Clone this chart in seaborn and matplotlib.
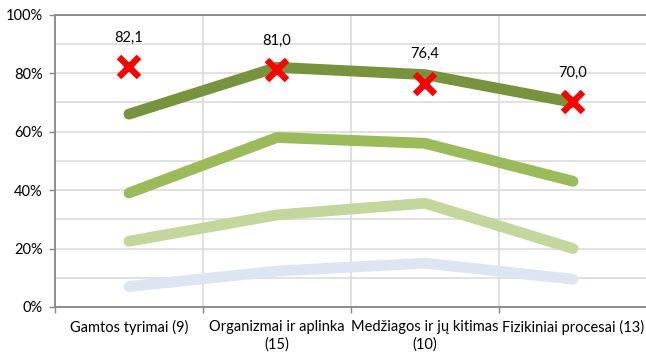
import numpy as np
import pandas as pd
import matplotlib
matplotlib.use("Agg")
import matplotlib.pyplot as plt
import seaborn as sns

# Categories (topics with number of tasks)
categories = [
    "Gamtos tyrimai (9)",
    "Organizmai ir aplinka\n(15)",
    "Medžiagos ir jų kitimas\n(10)",
    "Fizikiniai procesai (13)",
]

# Percentage series (bands)
series_names = ["s1", "s2", "s3", "s4"]
s1 = [66.0, 82.0, 79.5, 70.0]
s2 = [39.0, 58.0, 56.0, 43.0]
s3 = [22.5, 31.5, 35.5, 20.0]
s4 = [7.0, 12.3, 15.0, 9.5]

# Marked values with labels
marks = [82.1, 81.0, 76.4, 70.0]
mark_labels = ["82,1", "81,0", "76,4", "70,0"]

colors = ["#77933C", "#9BBB59", "#C3D69B", "#DCE6F2"]

sns.set_theme(style="white")
plt.rcParams["font.family"] = ["Lato", "DejaVu Sans"]

rows = []
for name, vals in zip(series_names, [s1, s2, s3, s4]):
    for i, v in enumerate(vals):
        rows.append({"pos": i, "value": v, "series": name})
df = pd.DataFrame(rows)

fig = plt.figure(figsize=(6.46, 3.56), dpi=100)
ax = fig.add_axes([55 / 646, 49 / 356, 592 / 646, 292.3 / 356])

sns.lineplot(
    data=df, x="pos", y="value", hue="series", palette=colors,
    hue_order=series_names, linewidth=7.8, legend=False, ax=ax,
)
for ln in ax.get_lines():
    ln.set_solid_capstyle("round")
    ln.set_solid_joinstyle("round")

ax.plot(range(len(marks)), marks, linestyle="none", marker="x",
        markersize=14, markeredgewidth=4.6, color="#FF0000", zorder=5)
for i, (v, lab) in enumerate(zip(marks, mark_labels)):
    ax.annotate(lab, (i, v), xytext=(0, 21.3), textcoords="offset points",
                ha="center", va="center", fontsize=10.5, color="black")

ax.set_xlim(-0.5, 3.5)
ax.set_ylim(0, 100)

# Horizontal grid every 10 %, labels every 20 %
ax.set_yticks(np.arange(0, 101, 20))
ax.set_yticklabels([f"{v}%" for v in range(0, 101, 20)])
ax.set_yticks(np.arange(0, 101, 10), minor=True)
ax.tick_params(axis="y", which="major", length=4, width=1, color="#868686",
               pad=5, labelsize=10.5, labelcolor="black", left=True)
ax.tick_params(axis="y", which="minor", length=0)
ax.grid(axis="y", which="both", color="#D9D9D9", linewidth=1.1)

# Category labels at centers, boundary ticks between categories
ax.set_xticks(range(len(categories)))
ax.set_xticklabels(categories, linespacing=1.35)
ax.set_xticks(np.arange(-0.5, 3.6, 1), minor=True)
ax.tick_params(axis="x", which="major", length=0, pad=9, labelsize=10.5,
               labelcolor="black")
ax.tick_params(axis="x", which="minor", length=4, width=1, color="#868686",
               bottom=True)
ax.grid(axis="x", which="minor", color="#D9D9D9", linewidth=1.1)
ax.grid(axis="x", which="major", visible=False)
ax.set_axisbelow(True)

ax.set_xlabel("")
ax.set_ylabel("")
for side in ["left", "bottom", "top"]:
    ax.spines[side].set_color("#868686")
    ax.spines[side].set_linewidth(1.3)
ax.spines["right"].set_visible(False)

fig.savefig("out.png", dpi=100)
